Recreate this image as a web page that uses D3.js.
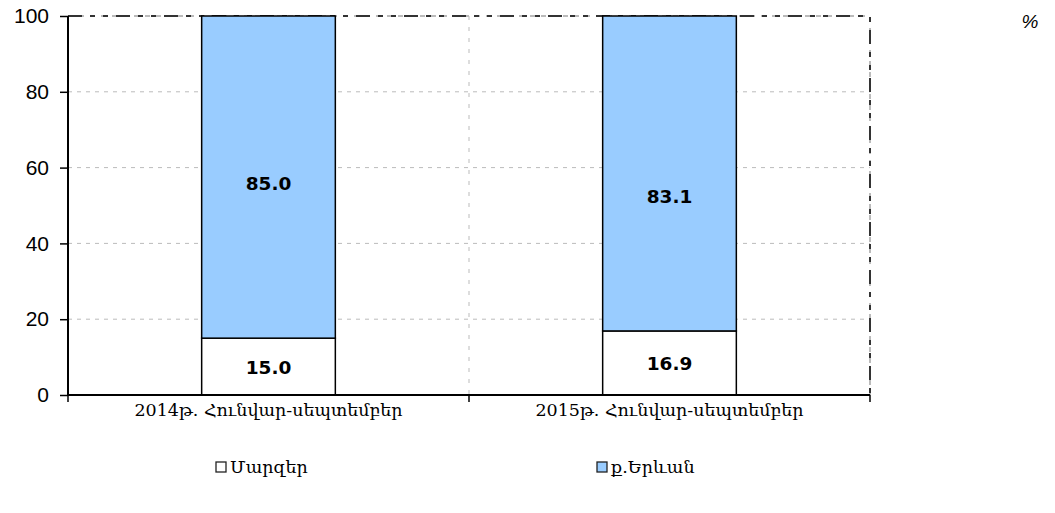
<!DOCTYPE html>
<html>
<head>
<meta charset="utf-8">
<script src="https://cdn.jsdelivr.net/npm/d3@7"></script>
<style>
  body { margin: 0; background: #fff; }
  svg { display: block; }
</style>
</head>
<body>
<svg id="chart" width="1055" height="513"></svg>
<script>
// data
const categories = ['2014թ. Հունվար-սեպտեմբեր', '2015թ. Հունվար-սեպտեմբեր']
const marzer = [15.0, 16.9]
const yerevan = [85.0, 83.1]
const seriesNames = ['Մարզեր', 'ք.Երևան']
const seriesColors = ['#ffffff', '#99ccff']
const yTicks = [0, 20, 40, 60, 80, 100]

const margin = {left: 68, right: 185, top: 16, bottom: 118}
const width = 1055 - margin.left - margin.right
const height = 513 - margin.top - margin.bottom
// label nudges (px) for upper segment labels, as placed in the original
const upperNudge = [6, 23]

const svg = d3.select('#chart')
const g = svg.append('g').attr('transform', `translate(${margin.left},${margin.top})`)

const x = d3.scaleBand().domain(categories).range([0, width]).paddingInner(0).paddingOuter(0)
const y = d3.scaleLinear().domain([0, 100]).range([height, 0])

// horizontal gridlines
g.append('g').selectAll('line').data(yTicks.filter(d => d > 0 && d < 100)).enter().append('line')
    .attr('x1', 0).attr('x2', width)
    .attr('y1', d => y(d)).attr('y2', d => y(d))
    .attr('stroke', '#bbb').attr('stroke-dasharray', '4,5')

// vertical gridline between categories
g.append('line')
    .attr('x1', x(categories[1])).attr('x2', x(categories[1]))
    .attr('y1', 0).attr('y2', height)
    .attr('stroke', '#bbb').attr('stroke-dasharray', '4,7')

// top and right border (dash-dot)
const border = g.append('g')
border.append('path').attr('d', `M0,0H${width}V${height}`).attr('fill', 'none')
    .attr('stroke', '#bbb').attr('stroke-width', 2).attr('stroke-dasharray', '5,6')
border.append('path').attr('d', `M0,0H${width}V${height}`).attr('fill', 'none')
    .attr('stroke', '#333').attr('stroke-width', 2).attr('stroke-dasharray', '14,8,5,8,5,8')

// stacked bars
const stack = categories.map((c, i) => [
  {cat: c, i: i, y0: 0, y1: marzer[i], v: marzer[i], s: 0},
  {cat: c, i: i, y0: marzer[i], y1: marzer[i] + yerevan[i], v: yerevan[i], s: 1}
]).flat()

const bw = x.bandwidth() / 3
g.append('g').selectAll('rect').data(stack).enter().append('rect')
    .attr('x', d => x(d.cat) + (x.bandwidth() - bw) / 2)
    .attr('width', bw)
    .attr('y', d => y(d.y1))
    .attr('height', d => y(d.y0) - y(d.y1))
    .attr('fill', d => seriesColors[d.s])
    .attr('stroke', '#000').attr('stroke-width', 1.5)

g.append('g').selectAll('text').data(stack).enter().append('text')
    .attr('x', d => x(d.cat) + x.bandwidth() / 2)
    .attr('y', d => (y(d.y0) + y(d.y1)) / 2 + 7 + (d.s === 1 ? upperNudge[d.i] : 0))
    .attr('text-anchor', 'middle')
    .attr('font-family', 'DejaVu Sans')
    .attr('font-weight', 'bold')
    .attr('font-size', 18.5)
    .text(d => d.v.toFixed(1))

// y axis
const yAxis = g.append('g')
    .call(d3.axisLeft(y).tickValues(yTicks).tickSize(8).tickPadding(11))
yAxis.select('.domain').attr('stroke', '#000').attr('stroke-width', 2).attr('d', `M0,${height}V0`)
yAxis.selectAll('.tick line').attr('stroke', '#000').attr('stroke-width', 1.5)
yAxis.selectAll('text').attr('font-family', 'Liberation Sans, Arial').attr('font-size', 21).attr('fill', '#000')

// x axis
const xAxis = g.append('g').attr('transform', `translate(0,${height})`)
    .call(d3.axisBottom(x).tickSize(0).tickPadding(9))
xAxis.select('.domain').attr('stroke', '#000').attr('stroke-width', 2).attr('d', `M0,0H${width}`)
xAxis.selectAll('text').attr('font-family', 'DejaVu Serif').attr('font-size', 17.5).attr('fill', '#000')
xAxis.append('g').selectAll('line').data([0, x(categories[1]), width]).enter().append('line')
    .attr('x1', d => d).attr('x2', d => d).attr('y1', 0).attr('y2', 7)
    .attr('stroke', '#000').attr('stroke-width', 1.5)

// unit label
svg.append('text').attr('x', 1030).attr('y', 28)
    .attr('text-anchor', 'middle')
    .attr('font-family', 'Liberation Sans, Arial').attr('font-style', 'italic').attr('font-size', 19)
    .text('%')

// legend
const legendX = [216, 597]
const legend = svg.append('g').selectAll('g').data(seriesNames).enter().append('g')
    .attr('transform', (d, i) => `translate(${legendX[i]},462)`)
legend.append('rect').attr('width', 10).attr('height', 10)
    .attr('fill', (d, i) => seriesColors[i]).attr('stroke', '#222').attr('stroke-width', 1.3)
legend.append('text').attr('x', 14).attr('y', 11)
    .attr('font-family', 'DejaVu Serif').attr('font-size', 17.5)
    .text(d => d)
</script>
</body>
</html>
